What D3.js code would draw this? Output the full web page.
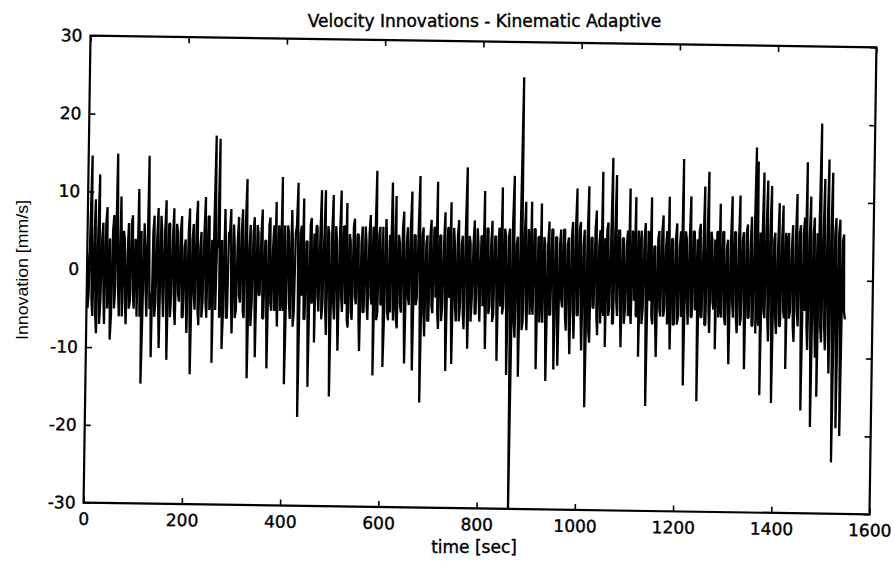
<!DOCTYPE html>
<html><head><meta charset="utf-8">
<script src="https://cdn.jsdelivr.net/npm/d3@7"></script>
<style>body{margin:0;background:#fff}svg{display:block}</style>
</head><body><svg id="c" width="894" height="561"></svg>
<script>
const title = "Velocity Innovations - Kinematic Adaptive";
const xLabel = "time [sec]";
const yLabel = "Innovation [mm/s]";
const xTicks = [0, 200, 400, 600, 800, 1000, 1200, 1400, 1600];
const yTicks = [-30, -20, -10, 0, 10, 20, 30];
const xDomain = [0, 1600];
const yDomain = [-30, 30];
const sampleStep = 2; // seconds between samples after interleaving

// innovation values [mm/s] at t = 0, 4, 8, ... s (100-s blocks)
const innovationEven = [
  2,-3,14.6,-6,9,-8.2,12.2,-4,6,-7,8,-2,-9,5,-5,14.9,-3,9.4,-6,4,-7,6,-4,7,-5,
  3,10.4,-6,-14.6,6,-3,14.7,-5,-11.2,7,-4,8,-10,5,-6,9,-11.5,6,-3,8,-7,5,-4,7,-6,
  4,-8,8,-13.3,6,-5,9,-7,5,-4,9.5,-6,7,-3,-11.8,17.4,4,17,-5,-10,8,-6,5,8,-8,
  3,-5,7,-4,8,-6,11.9,-13.7,6,-4,7,-11,5,-3,8,-6,4,-12.4,7,-5,6,9,-7,4,12.2,
  -5,-14.4,6,-4,8,-7,5,11.5,-18.6,6,9.5,-6,4,-14.7,7,-3,-9,6,-5,10.6,-4,10.6,-8,5,-15.9,
  10,-6,4,-10,10.6,-5,6,9,-7,4,-6,7,-4,5,-10,6,-5,4,-6,7.5,-4,-13.1,13.2,-5,6,
  -4,-12,7,-5,5,11.7,-6,10,-7,4,-5,8,-11.5,6,-4,10.6,-12.4,5,-3,12.6,-16.5,6,-8,5,-6,
  7,-5,6,11.9,-7,5,-4,8,-12.4,6,9.3,-11.5,4,-6,7,-4,5,-7,13.8,-9.5,4,-3,7,-5,4,
  -6,5,10.8,-9.5,6,-4,7,-5,5,-11,6,11.3,-4,5,-12.8,6,-30,12.8,-8,5,-13,25.5,-6,9.5,-7,
  4,9.5,-5,6,-12,5,9.3,-6,4,-13.5,7,-5,6,-12,5,-11.5,6,-4,6,-7,5,-10,7,-8,11.3,
  -5,7,-9.5,6,-16.8,11.6,-8.5,5,-4,8.5,-7.5,6,13.5,-5,-9,7,-4,15.3,-6,13.1,-5,6,-9,5,-4,
  6,11.4,-6,5,10.3,-5,-10.2,6,-4,7,-16.5,5,10.3,-6,4,-10.2,6,-5,8,-4,6,10.4,-9.2,5,-6,
  7,-5,6,15.3,-13.8,5,-6,10.5,-5,6,-4,-15.8,7,-5,11.8,-6,13.7,-7,5,-4,-9.1,6,9.6,-5,6,
  -6,5,-11,10.6,-5,6,-7,10.7,-5,6,-11.6,7,-5,8,-6,16.9,15.1,-6,-14.9,13.7,-5,12.7,-8,12,-15.9,
  6,-7,9.8,-6,9.5,-5,-11.5,6,-4,7,-8,11,-6,7,-16.8,8,15.1,-9,10.7,-18.9,8,-10,-15,20.1,-8,
  13,-9,15.5,-12,13.8,-23.4,8,-19,7.8,-20,5.9,-5
];

// innovation values [mm/s] at t = 2, 6, 10, ... s
const innovationOdd = [
  -5,6,-4,3,-6,5,-7,4,-3,6,-5,4,-6,7,-2,5,-6,3,5,-4,2,-5,6,-3,4,
  -6,4,5,-5,3,-6,4,-3,5,-6,4,-5,7,-3,5,-4,6,-6,4,-5,6,-3,5,-6,3,
  -4,5,-6,4,-3,6,-5,3,-6,5,-4,7,-5,4,6,-5,3,-6,4,-5,3,-6,5,-4,6,
  -6,4,-3,5,-5,6,-4,3,-7,5,-4,6,-3,5,-6,4,-5,6,-4,3,-5,-3,6,-5,-4,
  6,-3,5,-6,4,-5,6,-4,5,-3,-6,4,-5,6,-4,5,6,-3,5,-6,4,-5,6,-4,5,
  -4,6,-5,5,-3,6,-4,-6,5,-5,6,-3,5,-6,4,-5,6,-4,5,-3,6,4,-6,5,-4,
  6,-5,4,-6,-5,6,-3,-6,5,-4,6,-5,4,-3,6,-6,5,-4,6,-3,5,-5,4,-6,5,
  -4,6,-3,-5,5,-6,4,-5,6,-3,-5,6,-4,5,-6,4,-5,6,-4,5,-6,4,-5,6,-3,
  5,-4,-3,6,-5,4,-6,5,-3,6,-4,-5,6,-4,5,-5,7,-6,4,-5,8,-7,5,-4,6,
  -5,-3,6,-4,5,-6,-3,5,-6,4,-5,6,-4,5,-6,4,-3,6,-5,4,-6,5,-4,6,-5,
  6,-5,4,-6,5,-7,5,-4,6,-5,4,-6,-4,5,6,-5,4,-6,5,-3,6,-4,5,-6,4,
  -5,-4,6,-3,-5,6,4,-6,5,-4,6,-3,-5,4,-6,5,-4,6,-5,4,-6,-3,5,-6,5,
  -6,4,-5,-4,6,-3,5,-5,6,-4,5,6,-5,4,-6,5,-4,6,-3,5,6,-5,-4,6,-5,
  4,-6,5,-3,6,-5,4,-6,5,-4,6,-5,4,-6,5,-7,-5,6,5,-4,6,-5,6,-6,5,
  -5,4,-6,5,-4,6,5,-5,4,-6,5,-4,6,-5,6,-4,-6,5,-7,6,-5,6,8,-6,5,
  -6,5,-7,6,-8,6,-7,6,-6,5,-4
];

// merge the two sample sets into one time-ordered series
const innovation = [];
innovationEven.forEach((v, i) => {
  innovation.push(v);
  if (i < innovationOdd.length) innovation.push(innovationOdd[i]);
});

const svg = d3.select("#c");
const L = 87, R = 873, T = 41.5, B = 508.5;
const x = d3.scaleLinear().domain(xDomain).range([L, R]);
const y = d3.scaleLinear().domain(yDomain).range([B, T]);
const FONT = "'DejaVu Sans', Verdana, sans-serif";

const g = svg.append("g").attr("transform", "rotate(0.85,480,275)");

g.append("clipPath").attr("id", "clip").append("rect")
  .attr("x", L).attr("y", T).attr("width", R - L).attr("height", B - T);

g.append("path")
  .datum(innovation)
  .attr("clip-path", "url(#clip)")
  .attr("fill", "none")
  .attr("stroke", "#000")
  .attr("stroke-width", 2.3)
  .attr("stroke-linejoin", "bevel")
  .attr("d", d3.line().x((d, i) => x(i * sampleStep)).y(d => y(d)));

const fmt = d => String(d);
function style(sel) {
  sel.select(".domain").remove();
  sel.selectAll(".tick line").attr("stroke", "#000").attr("stroke-width", 1.6);
  sel.selectAll(".tick text").attr("font-family", FONT).attr("font-size", 17).attr("fill", "#000")
    .attr("stroke", "#000").attr("stroke-width", 0.4);
}
g.append("g").attr("transform", `translate(${L},0)`)
  .call(d3.axisLeft(y).tickValues(yTicks).tickSize(-6).tickPadding(8).tickFormat(fmt)).call(style);
g.append("g").attr("transform", `translate(${R},0)`)
  .call(d3.axisRight(y).tickValues(yTicks).tickSize(-6).tickFormat("")).call(style);
g.append("g").attr("transform", `translate(0,${B})`)
  .call(d3.axisBottom(x).tickValues(xTicks).tickSize(-6).tickPadding(10).tickFormat(fmt)).call(style);
g.append("g").attr("transform", `translate(0,${T})`)
  .call(d3.axisTop(x).tickValues(xTicks).tickSize(-6).tickFormat("")).call(style);

g.append("rect").attr("x", L).attr("y", T).attr("width", R - L).attr("height", B - T)
  .attr("fill", "none").attr("stroke", "#000").attr("stroke-width", 2.2);

svg.append("text").attr("x", 484.5).attr("y", 27).attr("text-anchor", "middle")
  .attr("font-family", FONT).attr("font-size", 17).attr("fill", "#000")
  .attr("stroke", "#000").attr("stroke-width", 0.4).text(title);

svg.append("text").attr("x", 474).attr("y", 553).attr("text-anchor", "middle")
  .attr("font-family", FONT).attr("font-size", 17).attr("fill", "#000")
  .attr("stroke", "#000").attr("stroke-width", 0.4).text(xLabel);

svg.append("text").attr("transform", "translate(28,270) rotate(-90)").attr("text-anchor", "middle")
  .attr("font-family", "'Liberation Sans Narrow', 'Arial Narrow', 'Liberation Sans', sans-serif")
  .attr("font-size", 17).attr("fill", "#000")
  .attr("textLength", 140).attr("lengthAdjust", "spacingAndGlyphs").text(yLabel);
</script>
</body></html>
